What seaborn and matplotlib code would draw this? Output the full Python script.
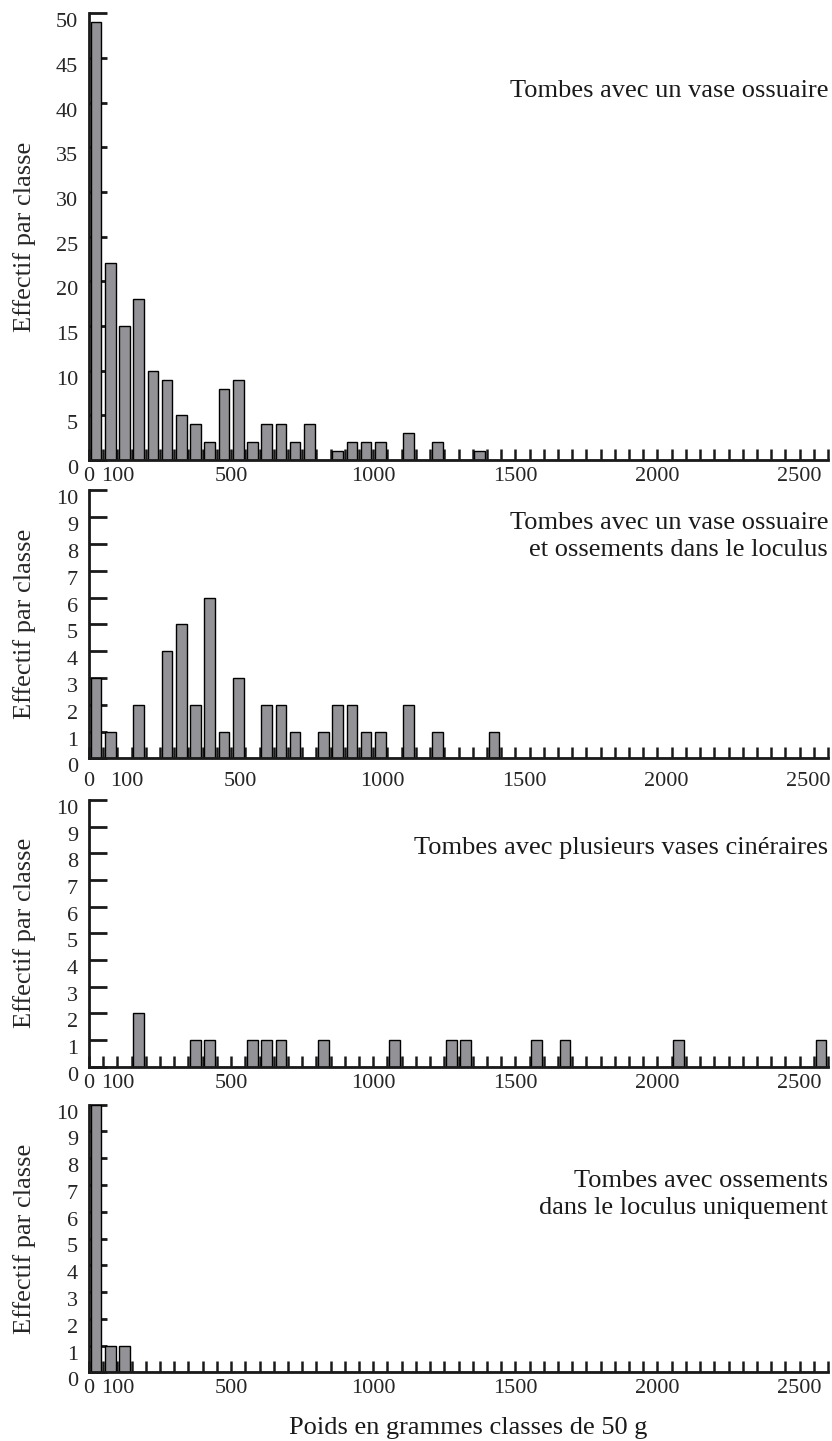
import numpy as np
import pandas as pd
import matplotlib
matplotlib.use('Agg')
import matplotlib.pyplot as plt
from matplotlib.transforms import ScaledTranslation
import seaborn as sns

# classes de 50 g : borne inférieure de la classe (g) et effectif
classes_vase = [0, 50, 100, 150, 200, 250, 300, 350, 400, 450, 500, 550, 600, 650, 700, 750,
                850, 900, 950, 1000, 1100, 1200, 1350]
effectifs_vase = [49, 22, 15, 18, 10, 9, 5, 4, 2, 8, 9, 2, 4, 4, 2, 4,
                  1, 2, 2, 2, 3, 2, 1]

classes_vase_loculus = [0, 50, 150, 250, 300, 350, 400, 450, 500, 600, 650, 700,
                        800, 850, 900, 950, 1000, 1100, 1200, 1400]
effectifs_vase_loculus = [3, 1, 2, 4, 5, 2, 6, 1, 3, 2, 2, 1,
                          1, 2, 2, 1, 1, 2, 1, 1]

classes_plusieurs = [150, 350, 400, 550, 600, 650, 800, 1050, 1250, 1300, 1550, 1650, 2050, 2550]
effectifs_plusieurs = [2, 1, 1, 1, 1, 1, 1, 1, 1, 1, 1, 1, 1, 1]

classes_loculus = [0, 50, 100]
effectifs_loculus = [10, 1, 1]

titres = ['Tombes avec un vase ossuaire',
          'Tombes avec un vase ossuaire\net ossements dans le loculus',
          'Tombes avec plusieurs vases cinéraires',
          'Tombes avec ossements\ndans le loculus uniquement']

xticks = [0, 100, 500, 1000, 1500, 2000, 2500]

sns.set_style('ticks')
plt.rcParams['font.family'] = ['Liberation Serif', 'DejaVu Serif']

W, H = 832, 1441
fig = plt.figure(figsize=(W / 100, H / 100), dpi=100)

# (haut, bas) en pixels
cadres = [(13.3, 460), (490.3, 758.3), (800, 1066.7), (1104.7, 1372.3)]
donnees = [(classes_vase, effectifs_vase, 50, 5),
           (classes_vase_loculus, effectifs_vase_loculus, 10, 1),
           (classes_plusieurs, effectifs_plusieurs, 10, 1),
           (classes_loculus, effectifs_loculus, 10, 1)]
titre_y = [0.825, 0.826, 0.82, 0.666]

gauche, droite = 89, 828

for i, ((haut, bas), (cl, eff, ymax, pas)) in enumerate(zip(cadres, donnees)):
    ax = fig.add_axes([gauche / W, 1 - bas / H, (droite - gauche) / W, (bas - haut) / H])
    df = pd.DataFrame({'poids': np.array(cl) + 25, 'effectif': eff})
    sns.histplot(data=df, x='poids', weights='effectif', binwidth=50, binrange=(0, 2600),
                 shrink=0.75, color='#939397', edgecolor='black', linewidth=1, alpha=1, ax=ax)
    ax.set_xlim(0, 2600)
    ax.set_ylim(0, ymax)
    sns.despine(ax=ax)
    for s in ['left', 'bottom']:
        ax.spines[s].set_linewidth(2)
        ax.spines[s].set_color('#1a1a1a')

    ax.set_xticks(xticks)
    ax.set_xticklabels([str(v) for v in xticks])
    ax.set_xticks(np.arange(0, 2650, 50), minor=True)
    ax.tick_params(axis='x', which='both', direction='in', length=8, width=1.8,
                   color='#1a1a1a', labelsize=16, pad=5)
    ax.set_yticks(np.arange(0, ymax + 1, pas))
    ax.tick_params(axis='y', direction='in', length=13, width=2,
                   color='#1a1a1a', labelsize=16, pad=8)

    dy = -7 / 100
    for lab in ax.get_yticklabels():
        lab.set_transform(lab.get_transform() + ScaledTranslation(0, dy, fig.dpi_scale_trans))
    if i == 1:
        for v, lab in zip(xticks, ax.get_xticklabels()):
            dx = 0 if v == 0 else 9 / 100
            lab.set_transform(lab.get_transform() + ScaledTranslation(dx, -7 / 100, fig.dpi_scale_trans))

    ax.set_ylabel('Effectif par classe', fontsize=19, labelpad=14)
    ax.set_xlabel('')
    ax.text(1.0, titre_y[i], titres[i], transform=ax.transAxes, ha='right', va='center',
            fontsize=19, linespacing=1.3, color='#1a1a1a')

fig.text(468 / W, 1 - 1428 / H, 'Poids en grammes classes de 50 g', ha='center', va='center',
         fontsize=19, color='#1a1a1a')

fig.savefig('out.png', dpi=100)
